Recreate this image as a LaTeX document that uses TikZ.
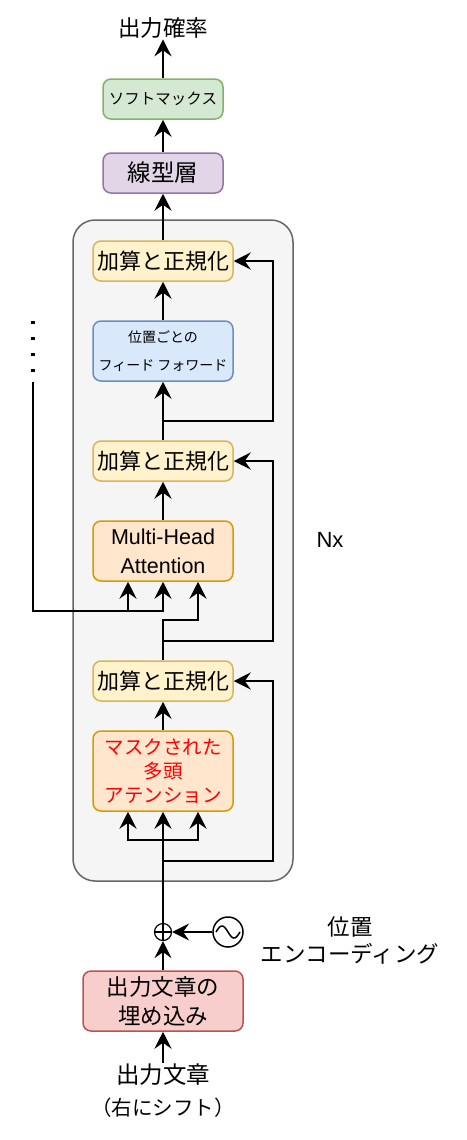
\documentclass[tikz,border=0pt]{standalone}
\usepackage{fontspec}
\setmainfont{Noto Sans CJK JP}
\newfontfamily\latinfont{Liberation Sans}
\usepackage{tikz}
\usetikzlibrary{positioning}
\usetikzlibrary{arrows.meta,calc}
\usepackage{color}
\definecolor{stackFill}{HTML}{F5F5F5}
\definecolor{stackDraw}{HTML}{666666}
\definecolor{anFill}   {HTML}{FFF2CC}
\definecolor{anDraw}   {HTML}{D6B656}
\definecolor{ffFill}   {HTML}{DAE8FC}
\definecolor{ffDraw}   {HTML}{6C8EBF}
\definecolor{attFill}  {HTML}{FFE6CC}
\definecolor{attDraw}  {HTML}{D79B00}
\definecolor{smFill}   {HTML}{D5E8D4}
\definecolor{smDraw}   {HTML}{82B366}
\definecolor{linFill}  {HTML}{E1D5E7}
\definecolor{linDraw}  {HTML}{9673A6}
\definecolor{embFill}  {HTML}{F8CECC}
\definecolor{embDraw}  {HTML}{B85450}

\begin{document}
\begin{tikzpicture}
[x=1pt, y=-1pt, line width=1.8pt, >={Stealth[length=17pt,width=17pt,inset=6pt]},
  block/.style   = { draw, rounded corners=8pt, line width=1.5pt, align=center, inner sep=0pt },
  addnorm/.style = { block, fill=anFill, draw=anDraw, minimum width=140pt, minimum height=40pt,
                     font=\fontsize{22}{26}\selectfont },
  label/.style   = { align=center, inner sep=0pt, font=\fontsize{22.5}{27}\selectfont }
]

\useasboundingbox (0,0) rectangle (466,1140);

% Decoder stack:
\node[block, rounded corners=22pt, fill=stackFill, draw=stackDraw,
      minimum width=220pt, minimum height=661pt] (stack) at (183,550.5) {};
\node[font=\latinfont\fontsize{22}{26}\selectfont] (nx) at (330,540) {Nx};

% Output side:
\node[label] (prob) at (163,28) {出力確率};
\node[block, fill=smFill, draw=smDraw, minimum width=120pt, minimum height=40pt,
      font=\fontsize{15.5}{18}\selectfont] (softmax) at (163,99) {ソフトマックス};
\node[block, fill=linFill, draw=linDraw, minimum width=120pt, minimum height=40pt,
      font=\fontsize{23.5}{27}\selectfont] (linear) at (163,173) {線型層};

% Layers inside the stack:
\node[addnorm] (an1) at (163,261) {加算と正規化};
\node[block, fill=ffFill, draw=ffDraw, minimum width=140pt, minimum height=60pt,
      font=\fontsize{14}{28}\selectfont] (ff) at (163,351) {位置ごとの\\フィード フォワード};
\node[addnorm] (an2) at (163,461) {加算と正規化};
\node[block, fill=attFill, draw=attDraw, minimum width=140pt, minimum height=60pt,
      font=\latinfont\fontsize{21.5}{29}\selectfont] (mha) at (163,551) {Multi-Head\\Attention};
\node[addnorm] (an3) at (163,681) {加算と正規化};
\node[block, fill=attFill, draw=attDraw, minimum width=140pt, minimum height=80pt,
      text=red, font=\fontsize{19.5}{24}\selectfont] (mmha) at (163,771) {マスクされた\\多頭\\アテンション};

% Input side:
\node[circle, draw, line width=1.2pt, minimum size=17pt, inner sep=0pt] (plus) at (163,932) {};
\draw[line width=1.2pt] (plus.north) -- (plus.south) (plus.west) -- (plus.east);
\node[circle, draw, line width=1.5pt, minimum size=30pt, inner sep=0pt] (wave) at (228,932) {};
\draw[line width=1.5pt, shift={(wave.center)}]
  plot[domain=-12:12, samples=40, smooth] (\x, {6*sin(\x*15)});
\node[label] (posenc) at (350,940) {位置\\エンコーディング};
\node[block, fill=embFill, draw=embDraw, minimum width=160pt, minimum height=60pt,
      font=\fontsize{22.5}{29}\selectfont] (embed) at (163,1001) {出力文章の\\埋め込み};
\node[label, font=\fontsize{23.5}{27}\selectfont] (input) at (163,1075) {出力文章};
\node[label, font=\fontsize{20.5}{23}\selectfont] (shift) at (163,1108) {（右にシフト）};

% Encoder memory (dots):
\foreach \y in {322,338,354,370}
  \fill (31,\y-1.5) rectangle ++(3.5,3.5);

% Skip points:
\coordinate (mem)    at (33,382);
\coordinate (memend) at (33,611);
\coordinate (ffskip) at (163,421);
\coordinate (mhaskip) at (163,641);
\coordinate (split)  at (163,840);
\coordinate (inskip) at (163,861);

% Connectors:
\draw[->] (input) -- (embed);
\draw[->] (embed) -- (plus);
\draw[->] (wave) -- (plus);
\draw[->] (plus) -- (mmha);
\draw[->] (split) -| ([xshift=-35pt]mmha.south);
\draw[->] (split) -| ([xshift=35pt]mmha.south);
\draw[->] (inskip) -- ++(110,0) |- (an3.east);
\draw[->] (mmha) -- (an3);
\draw[->] (an3.north) -- ++(0,-40) -| ([xshift=35pt]mha.south);
\draw[->] (mhaskip) -- ++(110,0) |- (an2.east);
\draw[->] (mem) -- (memend) -| (mha.south);
\draw[->] ([xshift=-35pt]mha.south |- memend) -- ([xshift=-35pt]mha.south);
\draw[->] (mha) -- (an2);
\draw[->] (an2) -- (ff);
\draw[->] (ffskip) -- ++(110,0) |- (an1.east);
\draw[->] (ff) -- (an1);
\draw[->] (an1) -- (linear);
\draw[->] (linear) -- (softmax);
\draw[->] (softmax) -- (prob);
\end{tikzpicture}
\end{document}
